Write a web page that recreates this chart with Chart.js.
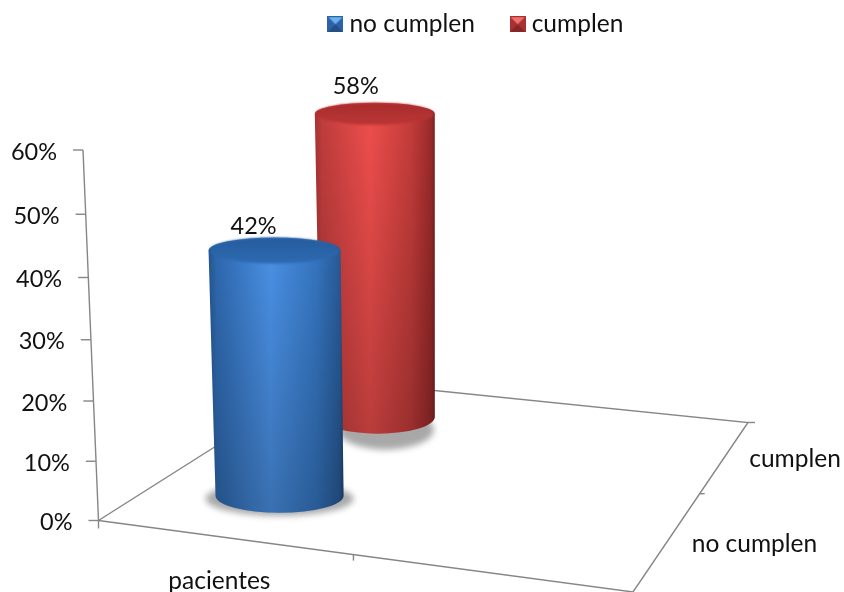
<!DOCTYPE html>
<html>
<head>
<meta charset="utf-8">
<title>pacientes</title>
<script src="https://cdn.jsdelivr.net/npm/chart.js@4/dist/chart.umd.min.js"></script>
<style>
    html, body { margin: 0; padding: 0; background: #fff; }
    #wrap { width: 844px; height: 592px; position: relative; }
</style>
</head>
<body>
<div id="wrap"><canvas id="chart"></canvas></div>
<script>
const categories = ['pacientes', ''];
const seriesNames = ['no cumplen', 'cumplen'];
const noCumplen = [42];
const cumplen = [58];
const yTicks = [0, 10, 20, 30, 40, 50, 60];

const FONT = 'Lato, sans-serif';
const TEXT_SIZE = 24.5;
const NUMBER_SIZE = 23.5;
const TEXT_COLOR = '#111';
const LINE_COLOR = '#868686';

// floor of the 3D box, in canvas pixels
const floor = { a: [98.5, 520.5], b: [633, 592], c: [748, 422.5], d: [322, 379] };

// one look per series: where it stands on the floor, and how it is shaded
const looks = [
    {
        u: 0.235, v: 0.28, scale: 0.96, lean: -5,
        rxBase: 64, ryBase: 17, rxTop: 66, ryTop: 13,
        labelDx: -21, labelDy: -24,
        shadow: { dx: 0, dy: 3, rx: 74, ry: 17 },
        body: ['#24558f', '#2e68ae', '#4a90e4', '#3474bf', '#285a96', '#1f4676'],
        face: ['#255c9c', '#2e6ab2']
    },
    {
        u: 0.22, v: 0.81, scale: 0.847, lean: -3,
        rxBase: 57, ryBase: 17, rxTop: 60, ryTop: 11,
        labelDx: -19, labelDy: -27,
        shadow: { dx: 8, dy: 13, rx: 48, ry: 20 },
        body: ['#a83232', '#bf3c3c', '#ee4e4c', '#c43c3a', '#9a2a2a', '#7a2222'],
        face: ['#a82c2c', '#bb3636']
    }
];

function lerp(p, q, t) {
    return [p[0] + (q[0] - p[0]) * t, p[1] + (q[1] - p[1]) * t];
}

function floorPoint(u, v) {
    return lerp(lerp(floor.a, floor.b, u), lerp(floor.d, floor.c, u), v);
}

// value axis is slightly foreshortened towards the bottom
function wallY(scale, value) {
    const t = value / scale.max;
    return scale.getPixelForValue(value) + 18 * t * (1 - t);
}

function wallX(scale, value) {
    return 98.5 - 15.5 * value / scale.max;
}

function line(ctx, x1, y1, x2, y2) {
    ctx.beginPath();
    ctx.moveTo(x1, y1);
    ctx.lineTo(x2, y2);
    ctx.stroke();
}

function drawBox(chart) {
    const ctx = chart.ctx;
    const y = chart.scales.y;
    ctx.save();
    ctx.strokeStyle = LINE_COLOR;
    ctx.lineWidth = 1.4;

    // floor outline
    ctx.beginPath();
    ctx.moveTo(floor.d[0], floor.d[1]);
    ctx.lineTo(floor.a[0], floor.a[1]);
    ctx.lineTo(floor.b[0], floor.b[1]);
    ctx.lineTo(floor.c[0], floor.c[1]);
    ctx.lineTo(floor.d[0], floor.d[1]);
    ctx.stroke();
    line(ctx, floor.c[0], floor.c[1], floor.c[0] + 7, floor.c[1]);

    // value axis, ticks and labels
    line(ctx, wallX(y, 0), wallY(y, 0), wallX(y, y.max), wallY(y, y.max));
    ctx.font = NUMBER_SIZE + 'px ' + FONT;
    ctx.fillStyle = TEXT_COLOR;
    ctx.textAlign = 'right';
    ctx.textBaseline = 'middle';
    yTicks.forEach(v => {
        const tx = wallX(y, v);
        const ty = wallY(y, v);
        line(ctx, tx - 10, ty, tx, ty);
        ctx.fillText(v + '%', tx - 26, ty + 2);
    });

    // category axis
    const mid = floorPoint(0.477, 0);
    line(ctx, floor.a[0], floor.a[1], floor.a[0], floor.a[1] + 8);
    line(ctx, mid[0], mid[1], mid[0], mid[1] + 6);
    ctx.font = TEXT_SIZE + 'px ' + FONT;
    ctx.textAlign = 'center';
    const catPos = floorPoint(0.228, 0);
    ctx.fillText(categories[0], catPos[0] - 1, catPos[1] + 44);

    // depth axis
    const dt = floorPoint(1, 0.58);
    line(ctx, dt[0], dt[1], dt[0] + 5, dt[1]);
    ctx.textAlign = 'left';
    seriesNames.forEach((name, i) => {
        const p = floorPoint(1, i === 0 ? 0.25 : 0.75);
        ctx.fillText(name, p[0] + 30, p[1] - 6);
    });
    ctx.restore();
}

function drawCylinder(chart, index) {
    const ctx = chart.ctx;
    const y = chart.scales.y;
    const look = looks[index];
    const value = chart.data.datasets[index].data[0];
    const base = floorPoint(look.u, look.v);
    const height = look.scale * (wallY(y, 0) - wallY(y, value));
    const topX = base[0] + look.lean;
    const topY = base[1] - height;

    ctx.save();

    // soft floor shadow
    ctx.filter = 'blur(3px)';
    ctx.fillStyle = '#a8a8a8';
    ctx.beginPath();
    ctx.ellipse(base[0] + look.shadow.dx, base[1] + look.shadow.dy, look.shadow.rx, look.shadow.ry, 0, 0, Math.PI * 2);
    ctx.fill();
    ctx.filter = 'none';

    // body outline: both sides plus the front half of the base
    const left = Math.min(topX - look.rxTop, base[0] - look.rxBase);
    const right = Math.max(topX + look.rxTop, base[0] + look.rxBase);
    ctx.beginPath();
    ctx.moveTo(topX - look.rxTop, topY);
    ctx.lineTo(base[0] - look.rxBase, base[1]);
    ctx.ellipse(base[0], base[1], look.rxBase, look.ryBase, 0, Math.PI, 0, true);
    ctx.lineTo(topX + look.rxTop, topY);
    ctx.ellipse(topX, topY, look.rxTop, look.ryTop, 0, 0, Math.PI, true);
    ctx.closePath();

    const shade = ctx.createLinearGradient(left, 0, right, 0);
    [0, 0.06, 0.46, 0.8, 0.97, 1].forEach((stop, i) => shade.addColorStop(stop, look.body[i]));
    ctx.fillStyle = shade;
    ctx.fill();

    // gets darker towards the floor
    const dim = ctx.createLinearGradient(0, topY, 0, base[1] + look.ryBase);
    dim.addColorStop(0, 'rgba(0,0,0,0)');
    dim.addColorStop(1, 'rgba(0,0,0,0.22)');
    ctx.fillStyle = dim;
    ctx.fill();

    // top face with a soft edge
    const face = ctx.createLinearGradient(0, topY - look.ryTop, 0, topY + look.ryTop);
    face.addColorStop(0, look.face[0]);
    face.addColorStop(1, look.face[1]);
    ctx.fillStyle = face;
    ctx.filter = 'blur(0.8px)';
    ctx.beginPath();
    ctx.ellipse(topX, topY, look.rxTop - 1, look.ryTop, 0, 0, Math.PI * 2);
    ctx.fill();
    ctx.filter = 'none';

    // value label
    ctx.font = NUMBER_SIZE + 'px ' + FONT;
    ctx.fillStyle = TEXT_COLOR;
    ctx.textAlign = 'center';
    ctx.textBaseline = 'middle';
    ctx.fillText(value + '%', topX + look.labelDx, topY + look.labelDy);
    ctx.restore();
}

// little bevelled square used in the legend
function legendIcon(light, mid, dark) {
    const c = document.createElement('canvas');
    c.width = 16;
    c.height = 16;
    const g = c.getContext('2d');
    g.fillStyle = mid;
    g.fillRect(0, 0, 16, 16);
    g.fillStyle = dark;
    g.beginPath();
    g.moveTo(0, 16);
    g.lineTo(8, 8);
    g.lineTo(16, 16);
    g.closePath();
    g.fill();
    g.fillStyle = light;
    g.beginPath();
    g.moveTo(1, 1);
    g.lineTo(15, 1);
    g.lineTo(8, 8);
    g.closePath();
    g.fill();
    return c;
}

const icons = [
    legendIcon('#6db0f0', '#2d62a6', '#234f85'),
    legendIcon('#f07070', '#a83030', '#862626')
];

const cylinderPlugin = {
    id: 'cylinders',
    beforeInit(chart) {
        // reserve the empty band between legend and plot
        const fit = chart.legend.fit;
        chart.legend.fit = function () {
            fit.call(this);
            this.height = 150;
        };
    },
    afterLayout(chart) {
        chart.legend.top = -29;
    },
    beforeDatasetsDraw(chart) {
        drawBox(chart);
    },
    afterDatasetsDraw(chart) {
        // back row first so the front cylinder covers it
        for (let i = chart.data.datasets.length - 1; i >= 0; i--) {
            drawCylinder(chart, i);
        }
    }
};

new Chart(document.getElementById('chart'), {
    type: 'bar',
    data: {
        labels: categories,
        datasets: [
            { label: seriesNames[0], data: noCumplen, backgroundColor: 'transparent' },
            { label: seriesNames[1], data: cumplen, backgroundColor: 'transparent' }
        ]
    },
    options: {
        responsive: true,
        maintainAspectRatio: false,
        animation: false,
        layout: { padding: { left: 113, right: 0, top: 0, bottom: 71.5 } },
        scales: {
            x: { display: false },
            y: { display: false, min: 0, max: 60 }
        },
        plugins: {
            tooltip: { enabled: false },
            legend: {
                position: 'top',
                labels: {
                    usePointStyle: true,
                    boxWidth: 3.5,
                    padding: 41,
                    color: TEXT_COLOR,
                    font: { family: FONT, size: TEXT_SIZE },
                    generateLabels: () => seriesNames.map((text, i) => ({
                        text,
                        datasetIndex: i,
                        pointStyle: icons[i],
                        fontColor: TEXT_COLOR
                    }))
                }
            }
        }
    },
    plugins: [cylinderPlugin]
});
</script>
</body>
</html>
